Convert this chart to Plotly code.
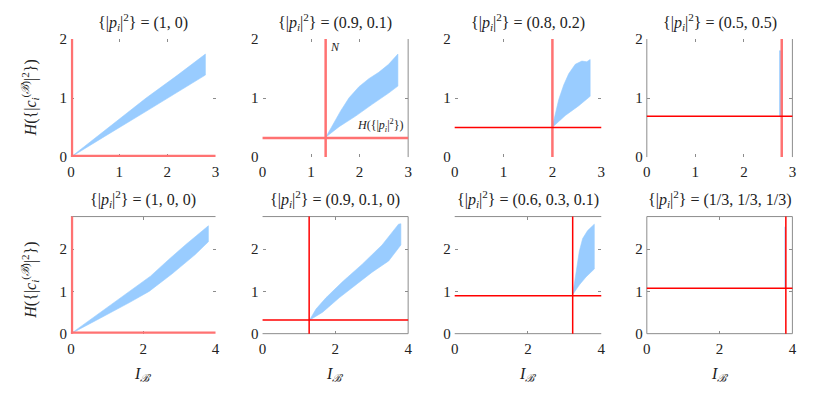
import plotly.graph_objects as go
from plotly.subplots import make_subplots

# ---- data ----
titles = ["(1, 0)", "(0.9, 0.1)", "(0.8, 0.2)", "(0.5, 0.5)",
          "(1, 0, 0)", "(0.9, 0.1, 0)", "(0.6, 0.3, 0.1)", "(1/3, 1/3, 1/3)"]

# N (vertical line) and H({|p_i|^2}) (horizontal line) per panel
n_vals = [0.0, 1.30, 2.0, 2.78, 0.0, 1.28, 3.22, 3.82]
h_vals = [0.0, 0.325, 0.500, 0.693, 0.0, 0.325, 0.898, 1.075]

# upper / lower edges of the blue region per panel
up_x = [
    [0.0, 0.70, 1.56, 2.20, 2.79],
    [1.306, 1.442, 1.612, 1.782, 1.986, 2.19, 2.394, 2.598, 2.789],
    [1.994, 2.063, 2.13, 2.231, 2.333, 2.468, 2.603, 2.704, 2.773],
    [2.728, 2.762],
    [0.0, 0.705, 1.617, 2.20, 2.70, 3.164, 3.803],
    [1.288, 1.469, 1.741, 2.195, 2.739, 3.284, 3.737, 3.80],
    [3.22, 3.311, 3.401, 3.492, 3.628, 3.81],
    [3.785, 3.805],
]
up_y = [
    [0.0, 0.45, 1.00, 1.38, 1.745],
    [0.34, 0.542, 0.786, 1.003, 1.192, 1.328, 1.436, 1.572, 1.745],
    [0.50, 0.759, 0.976, 1.22, 1.41, 1.572, 1.626, 1.615, 1.653],
    [1.80, 1.80],
    [0.0, 0.432, 1.00, 1.36, 1.75, 2.098, 2.552],
    [0.318, 0.583, 0.848, 1.227, 1.644, 2.098, 2.591, 2.60],
    [0.924, 1.417, 1.947, 2.25, 2.439, 2.59],
    [2.52, 2.52],
]
low_x = [
    [0.0, 0.70, 1.56, 2.20, 2.79],
    [1.306, 1.578, 1.918, 2.259, 2.598, 2.789],
    [1.994, 2.265, 2.535, 2.773],
    [2.728, 2.762],
    [0.0, 0.705, 1.617, 2.163, 2.80, 3.438, 3.803],
    [1.288, 1.651, 2.105, 2.558, 3.012, 3.465, 3.80],
    [3.22, 3.401, 3.583, 3.81],
    [3.785, 3.805],
]
low_y = [
    [0.0, 0.35, 0.775, 1.09, 1.39],
    [0.34, 0.515, 0.694, 0.894, 1.084, 1.203],
    [0.50, 0.705, 0.867, 1.03],
    [0.69, 0.69],
    [0.0, 0.318, 0.735, 1.0, 1.416, 1.871, 2.175],
    [0.318, 0.508, 0.848, 1.152, 1.455, 1.72, 2.098],
    [0.924, 1.152, 1.341, 1.53],
    [1.10, 1.10],
]

# ---- styling ----
SALMON = "#ff7272"
RED = "#ff0000"
GRAY = "#8c8c8c"
BLUE = "#99ccff"
FONT = "Liberation Serif"
TXT = "#222"

# line style per panel: (colour, width) of vertical and horizontal lines
vstyle = [(SALMON, 4.5), (SALMON, 2.5), (SALMON, 2.5), (SALMON, 2.5),
          (SALMON, 4.5), (RED, 1.5), (RED, 1.5), (RED, 1.5)]
hstyle = [(SALMON, 4.5), (SALMON, 2.5), (RED, 1.5), (RED, 1.5),
          (SALMON, 4.5), (RED, 1.5), (RED, 1.5), (RED, 1.5)]
# visible grey frame edges per panel
frames = [[], ["right"], [], ["left", "right"],
          ["top"], ["top", "right", "bottom"], ["top", "bottom"],
          ["top", "right", "bottom", "left"]]

W, H = 830, 397
OFF = 8  # page body margin shifts the figure by 8px


def fx(px):
    return (px - OFF) / W


def fy(py):
    return 1 - (py - OFF) / H


xpix = [(67.5, 213.5), (261, 408), (455, 603), (649, 796)]
ypix = [(32, 155), (217, 339)]

fig = make_subplots(rows=2, cols=4)

for k in range(8):
    r, c = k // 4 + 1, k % 4 + 1
    fig.add_trace(go.Scatter(
        x=up_x[k] + low_x[k][::-1], y=up_y[k] + low_y[k][::-1],
        fill="toself", fillcolor=BLUE, mode="lines",
        line=dict(width=0.6, color=BLUE), hoverinfo="skip", showlegend=False
    ), row=r, col=c)
    fig.add_vline(x=n_vals[k], line_color=vstyle[k][0], line_width=vstyle[k][1],
                  layer="above", row=r, col=c)
    fig.add_hline(y=h_vals[k], line_color=hstyle[k][0], line_width=hstyle[k][1],
                  layer="above", row=r, col=c)

    x0, x1 = xpix[c - 1]
    y0, y1 = ypix[r - 1]
    top = r == 1
    fig.update_xaxes(domain=[fx(x0), fx(x1)], range=[0, 3] if top else [0, 4],
                     tickvals=[0, 1, 2, 3] if top else [0, 2, 4],
                     row=r, col=c)
    fig.update_yaxes(domain=[fy(y1), fy(y0)], range=[0, 2] if top else [0, 2.77],
                     tickvals=[0, 1, 2], row=r, col=c)

    xr = "x domain" if k == 0 else f"x{k + 1} domain"
    yr = "y domain" if k == 0 else f"y{k + 1} domain"
    edges = {"top": (0, 1, 1, 1), "bottom": (0, 0, 1, 0),
             "left": (0, 0, 0, 1), "right": (1, 0, 1, 1)}
    for e in frames[k]:
        a, b, cc, d = edges[e]
        fig.add_shape(type="line", xref=xr, yref=yr, x0=a, y0=b, x1=cc, y1=d,
                      line=dict(color=GRAY, width=1), layer="below")

    # panel title
    fig.add_annotation(
        text="{|<i>p<sub>i</sub></i>|<sup>2</sup>} = " + titles[k],
        x=fx((x0 + x1) / 2), y=fy(y0 - 18), xref="paper", yref="paper",
        xanchor="center", yanchor="middle", showarrow=False,
        font=dict(size=16, family=FONT, color=TXT))

fig.update_xaxes(showgrid=False, zeroline=False, showline=False,
                 ticks="inside", ticklen=3, tickcolor=GRAY, mirror="ticks",
                 ticklabelstandoff=4,
                 tickfont=dict(size=15, family=FONT, color=TXT))
fig.update_yaxes(showgrid=False, zeroline=False, showline=False,
                 ticks="inside", ticklen=3, tickcolor=GRAY, mirror="ticks",
                 ticklabelstandoff=3,
                 tickfont=dict(size=15, family=FONT, color=TXT))

# axis labels
ylab = ("<i>H</i>({|<i>c</i><sub><i>i</i></sub><sup>(<i>ℬ</i>)</sup>|"
        "<sup>2</sup>})")
for yc in [93, 283]:
    fig.add_annotation(text=ylab, x=fx(26), y=fy(yc), xref="paper",
                       yref="paper", textangle=-90, showarrow=False,
                       xanchor="center", yanchor="middle",
                       font=dict(size=16, family=FONT, color=TXT))
for x0, x1 in xpix:
    fig.add_annotation(text="<i>I</i><sub><i>ℬ</i></sub>", x=fx((x0 + x1) / 2),
                       y=fy(382), xref="paper", yref="paper",
                       xanchor="center", yanchor="middle", showarrow=False,
                       font=dict(size=16, family=FONT, color=TXT))

# labels on the (0.9, 0.1) panel
fig.add_annotation(text="<i>N</i>", x=n_vals[1] + 0.05, y=1.87, xref="x2",
                   yref="y2", xanchor="left", showarrow=False,
                   font=dict(size=12, family=FONT, color=TXT))
fig.add_annotation(text="<i>H</i>({|<i>p<sub>i</sub></i>|<sup>2</sup>})",
                   x=2.96, y=h_vals[1] + 0.04, xref="x2", yref="y2",
                   xanchor="right", yanchor="bottom", showarrow=False,
                   font=dict(size=12, family=FONT, color=TXT))

fig.update_layout(width=W, height=H, margin=dict(l=0, r=0, t=0, b=0),
                  plot_bgcolor="white", paper_bgcolor="white",
                  showlegend=False)

fig.write_html("out.html")
